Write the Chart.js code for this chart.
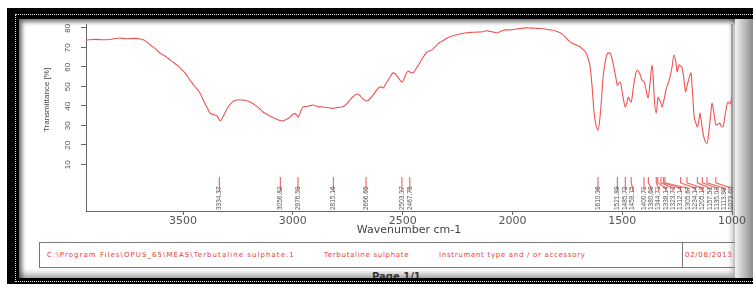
<!DOCTYPE html>
<html>
<head>
<meta charset="utf-8">
<script src="https://cdn.jsdelivr.net/npm/chart.js@4.4.1/dist/chart.umd.min.js"></script>
<style>
  body { margin: 0; width: 753px; height: 284px; overflow: hidden; background: #fff; position: relative; font-family: "DejaVu Sans", sans-serif; }
  .abs { position: absolute; }
  #outer { left: 7px; top: 8px; width: 760px; height: 290px; background: #000; }
  #dots { left: 15px; top: 14px; width: 750px; height: 266px; border: 1px dotted #e8e8e8; }
  #panel { left: 19px; top: 19px; width: 716px; height: 259px; background: #fff; overflow: hidden;
    box-shadow: inset 3px 3px 4px rgba(0,0,0,.55), inset -2px -4px 6px rgba(0,0,0,.35); }
  #shade { left: 735px; top: 19px; width: 18px; height: 259px; background: linear-gradient(to right, #f2f2f2, #8c8c8c); }
  #footer { left: 20px; top: 223px; width: 698px; height: 26px; border: 1px solid #777; box-sizing: border-box; }
  #divider { left: 663px; top: 223px; width: 1px; height: 26px; background: #777; }
  .ft { top: 232px; font-size: 7px; letter-spacing: 0.7px; color: #e53a3a; white-space: nowrap; }
  #page { left: 353px; top: 252px; font-size: 10px; font-weight: bold; color: #333; }
  #chart { position: absolute; left: 0; top: 0; }
</style>
</head>
<body>
<div id="outer" class="abs"></div>
<div id="dots" class="abs"></div>
<div id="shade" class="abs"></div>
<div id="panel" class="abs">
  <div id="footer" class="abs"></div>
  <div id="divider" class="abs"></div>
  <div class="abs ft" style="left:28px; letter-spacing:1.05px">C:\Program Files\OPUS_65\MEAS\Terbutaline sulphate.1</div>
  <div class="abs ft" style="left:305px">Terbutaline sulphate</div>
  <div class="abs ft" style="left:420px">Instrument type and / or accessory</div>
  <div class="abs ft" style="left:666px">02/08/2013</div>
  <div id="page" class="abs">Page 1/1</div>
</div>
<canvas id="chart" width="753" height="284"></canvas>
<script>
// spectrum (wavenumber cm-1 -> transmittance %)
const wavenumbers = [
  3942, 3900, 3860, 3820, 3790, 3760, 3720, 3690, 3675, 3659, 3640, 3628, 3610, 3591, 3575, 3559,
  3540, 3523, 3505, 3491, 3475, 3459, 3441, 3423, 3410, 3400, 3388, 3377, 3365, 3352, 3343, 3331,
  3322, 3313, 3304, 3295, 3277, 3265, 3254, 3240, 3227, 3211, 3195, 3182, 3168, 3150, 3136, 3120,
  3104, 3090, 3076, 3060, 3049, 3035, 3022, 3010, 2999, 2990, 2983, 2976, 2970, 2963, 2954, 2942,
  2931, 2920, 2908, 2897, 2885, 2867, 2853, 2840, 2828, 2817, 2805, 2794, 2780, 2771, 2755, 2740,
  2725, 2708, 2696, 2685, 2672, 2662, 2650, 2635, 2620, 2603, 2596, 2589, 2578, 2567, 2555, 2544,
  2535, 2526, 2515, 2503, 2496, 2489, 2482, 2475, 2468, 2462, 2453, 2442, 2430, 2420, 2412, 2400,
  2389, 2376, 2366, 2355, 2343, 2330, 2316, 2300, 2284, 2266, 2248, 2228, 2207, 2190, 2170, 2150,
  2134, 2116, 2104, 2093, 2080, 2070, 2058, 2047, 2034, 2011, 1990, 1974, 1955, 1933, 1915, 1897,
  1880, 1861, 1845, 1829, 1806, 1783, 1772, 1760, 1750, 1738, 1726, 1715, 1704, 1692, 1683, 1674,
  1665, 1656, 1646, 1637, 1628, 1619, 1610, 1601, 1592, 1587, 1578, 1569, 1560, 1551, 1542, 1533,
  1526, 1522, 1518, 1509, 1500, 1493, 1486, 1479, 1473, 1466, 1459, 1450, 1441, 1432, 1425, 1418,
  1409, 1400, 1391, 1382, 1373, 1364, 1359, 1354, 1345, 1341, 1337, 1332, 1324, 1318, 1312, 1306,
  1300, 1291, 1282, 1273, 1264, 1255, 1250, 1241, 1234, 1227, 1218, 1212, 1205, 1196, 1186, 1182,
  1177, 1173, 1164, 1157, 1150, 1146, 1141, 1132, 1123, 1114, 1105, 1096, 1091, 1082, 1073, 1064,
  1055, 1050, 1041, 1032, 1018, 1009, 1000
];
const transmittance = [
  73.8, 74.1, 73.9, 74.3, 74.8, 74.4, 74.6, 74.2, 73.6, 72.2, 70.5, 69.5, 67.5, 66.1, 65, 63.6,
  62, 60.5, 58.5, 56.9, 54.3, 51.8, 49.2, 46.6, 43.5, 41, 38.5, 36.3, 35.6, 35.2, 34.6, 32.2,
  33.6, 35.5, 37.6, 39.4, 41.8, 42.7, 43, 43.1, 42.9, 42.6, 42, 41.2, 40, 38.4, 36.8, 35.8,
  34.8, 34, 33.2, 32.5, 32.2, 32.7, 33.5, 34.6, 35.8, 36, 35.4, 34.2, 35.5, 37.5, 39.4, 39.6,
  39.8, 40.1, 40.4, 40, 39.6, 39.4, 39.3, 39.1, 38.8, 38.7, 39, 39.2, 39.3, 39.6, 41, 43,
  44.8, 46.1, 45.4, 44, 42.8, 42.5, 43.5, 45.5, 47.8, 49.7, 49.6, 49.2, 51, 53, 55.2, 56.9,
  56.6, 55.5, 53.7, 52.2, 53.3, 55, 56.8, 57.9, 57.4, 57, 56.9, 58.5, 60.5, 62.5, 64, 66,
  67.7, 68.3, 68.7, 70, 71.3, 72.6, 73.5, 74.6, 75.4, 76.1, 76.6, 77.1, 77.5, 77.7, 77.8, 77.9,
  78, 78.5, 78.2, 78, 77.7, 77.5, 78, 78.5, 79, 79, 79.3, 79.6, 79.8, 80, 79.9, 79.8,
  79.7, 79.6, 79.3, 79, 78.5, 77.5, 76.7, 75.5, 74.2, 72.8, 72.1, 71.5, 71, 70.3, 69.3, 68.5,
  67.2, 64.5, 60, 49.7, 36.3, 30, 27.5, 34.2, 47, 54.8, 62, 66.6, 67.2, 66.1, 62, 56.9,
  52.5, 50.5, 51.2, 52.2, 47, 42.5, 39.4, 41.5, 44.5, 43, 41.9, 49, 55, 58.4, 57.6, 55.8,
  53, 52.2, 48, 44, 52, 61, 55, 44, 36.3, 40, 44.5, 43.5, 41.5, 39.4, 42, 45,
  48.6, 51.5, 54.8, 60, 66.1, 62, 57.4, 61, 60.5, 59.4, 53, 47.1, 50, 54, 56.9, 50,
  42, 35.3, 31, 29.1, 33, 36.3, 33, 26, 22, 20.5, 27, 37, 41.4, 36, 30.1, 30.5,
  31.1, 29.5, 29.1, 35, 41.9, 41, 44.5
];
const peakPositions = [
  3334.37, 3056.82, 2976.59, 2815.16, 2666.65, 2503.37, 2467.75,
  1610.36, 1521.89, 1485.72, 1459.15, 1400.71, 1380.68, 1344.71, 1338.14, 1323.71,
  1312.14, 1305.67, 1234.14, 1205.18, 1157.51, 1135.03, 1113.98, 1073.60
];
const xTickValues = [3500, 3000, 2500, 2000, 1500, 1000];
const yTickValues = [10, 20, 30, 40, 50, 60, 70, 80];

const points = wavenumbers.map((w, i) => ({ x: w, y: transmittance[i] }));
const narrow = "'Liberation Sans Narrow', 'Liberation Sans', sans-serif";

const peakMarks = {
  id: "peakMarks",
  afterDatasetsDraw(chart) {
    const { ctx, chartArea, scales: { x, y } } = chart;
    ctx.save();
    // right frame line
    ctx.strokeStyle = "#8a8a8a";
    ctx.lineWidth = 1.5;
    ctx.beginPath();
    ctx.moveTo(chartArea.right, chartArea.top);
    ctx.lineTo(chartArea.right, chartArea.bottom);
    ctx.stroke();

    // peak picks with spread-out labels
    const y0 = y.getPixelForValue(3.5), y1 = y.getPixelForValue(0.5),
      y2 = y.getPixelForValue(-2.3), y3 = y.getPixelForValue(-4);
    let last = -Infinity;
    peakPositions.forEach((wn) => {
      const px = x.getPixelForValue(wn);
      const lx = Math.max(px, last + 7.3);
      last = lx;
      ctx.strokeStyle = "#f26b6b";
      ctx.lineWidth = 1.2;
      ctx.beginPath();
      ctx.moveTo(px, y0);
      ctx.lineTo(px, y1);
      ctx.lineTo(lx, y2);
      ctx.lineTo(lx, y3);
      ctx.stroke();
      ctx.save();
      ctx.translate(lx, chartArea.bottom - 1);
      ctx.rotate(-Math.PI / 2);
      ctx.font = "6.5px " + narrow;
      ctx.fillStyle = "#555";
      ctx.textAlign = "left";
      ctx.textBaseline = "middle";
      ctx.fillText(wn.toFixed(2), 0, 0);
      ctx.restore();
    });

    // y axis title
    ctx.translate(47, y.getPixelForValue(43));
    ctx.rotate(-Math.PI / 2);
    ctx.font = "8px " + narrow;
    ctx.fillStyle = "#444";
    ctx.textAlign = "center";
    ctx.textBaseline = "middle";
    ctx.fillText("Transmittance [%]", 0, 0);
    ctx.restore();
  },
};

Chart.defaults.font.family = "'DejaVu Sans', sans-serif";

new Chart(document.getElementById("chart"), {
  type: "line",
  data: {
    datasets: [
      {
        data: points,
        borderColor: "#f05252",
        borderWidth: 1.1,
        pointRadius: 0,
        cubicInterpolationMode: "monotone",
        fill: false,
      },
    ],
  },
  options: {
    responsive: false,
    animation: false,
    devicePixelRatio: 1,
    layout: { padding: { left: 20, top: 24, right: 21, bottom: 43 } },
    plugins: { legend: { display: false }, tooltip: { enabled: false } },
    scales: {
      x: {
        type: "linear",
        reverse: true,
        min: 1000,
        max: 3942,
        afterBuildTicks: (s) => { s.ticks = xTickValues.map((v) => ({ value: v })); },
        afterFit: (s) => { s.height = 30; },
        grid: { drawOnChartArea: false, drawTicks: true, tickLength: 4, color: "#666" },
        border: { display: true, color: "#666", width: 1 },
        ticks: { padding: 0, color: "#555", font: { size: 11 }, callback: (v) => String(v) },
        title: { display: true, text: "Wavenumber cm-1", color: "#444", font: { size: 11 }, padding: { top: 0, bottom: 4 } },
      },
      y: {
        min: -14,
        max: 82,
        afterBuildTicks: (s) => { s.ticks = yTickValues.map((v) => ({ value: v })); },
        afterFit: (s) => { s.width = 66; },
        grid: { drawOnChartArea: false, drawTicks: true, tickLength: 5, color: "#666" },
        border: { display: true, color: "#666", width: 1 },
        ticks: {
          minRotation: 90,
          maxRotation: 90,
          padding: 13,
          labelOffset: -4,
          color: "#555",
          font: { size: 8, family: narrow },
          callback: (v) => String(v),
        },
      },
    },
  },
  plugins: [peakMarks],
});
</script>
</body>
</html>
